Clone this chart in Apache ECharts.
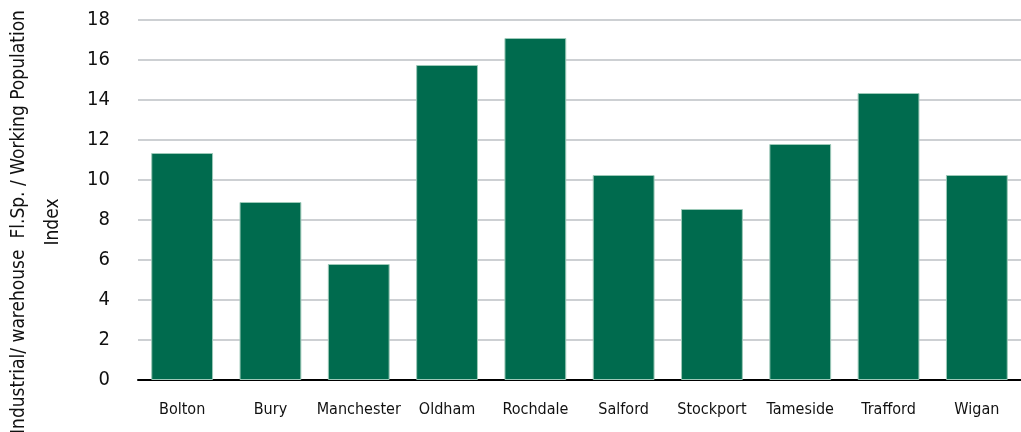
<!DOCTYPE html>
<html>
<head>
<meta charset="utf-8">
<script src="https://cdn.jsdelivr.net/npm/echarts@6/dist/echarts.min.js"></script>
<style>html,body{margin:0;padding:0;background:#fff}#c{width:1021px;height:432px}</style>
</head>
<body>
<div id="c"></div>
<script>
const categories = ["Bolton","Bury","Manchester","Oldham","Rochdale","Salford","Stockport","Tameside","Trafford","Wigan"];
const values = [11.35, 8.9, 5.8, 15.75, 17.1, 10.25, 8.55, 11.8, 14.35, 10.25];
const yTicks = [0, 2, 4, 6, 8, 10, 12, 14, 16, 18];
const yTitle = "Industrial/ warehouse  Fl.Sp. / Working Population\nIndex";

const FONT = "'DejaVu Sans Condensed', 'Liberation Sans Narrow', sans-serif";
const chart = echarts.init(document.getElementById('c'), null, {renderer: 'canvas'});
chart.setOption({
  animation: false,
  grid: {left: 138, right: 0, top: 20, bottom: 52, containLabel: false, outerBoundsMode: 'none'},
  xAxis: {
    type: 'category',
    data: categories,
    axisLine: {lineStyle: {color: '#000', width: 2}},
    axisTick: {show: false},
    axisLabel: {color: '#111', fontFamily: FONT, fontSize: 16, margin: 22, interval: 0}
  },
  yAxis: {
    type: 'value',
    min: yTicks[0], max: yTicks[yTicks.length - 1], interval: 2,
    name: yTitle,
    nameLocation: 'middle',
    nameRotate: 90,
    nameGap: 68,
    nameTextStyle: {color: '#111', fontFamily: FONT, fontSize: 19, lineHeight: 34, align: 'center', padding: [0, 44, 0, 0]},
    axisLine: {show: false},
    axisTick: {show: false},
    axisLabel: {color: '#111', fontFamily: FONT, fontSize: 20, margin: 28},
    splitLine: {lineStyle: {color: '#bcc0c4', width: 1.5}}
  },
  series: [{
    type: 'bar',
    data: values,
    barWidth: '70%',
    itemStyle: {color: '#006B4E', borderColor: '#9cc9b8', borderWidth: 1}
  }]
});
</script>
</body>
</html>
